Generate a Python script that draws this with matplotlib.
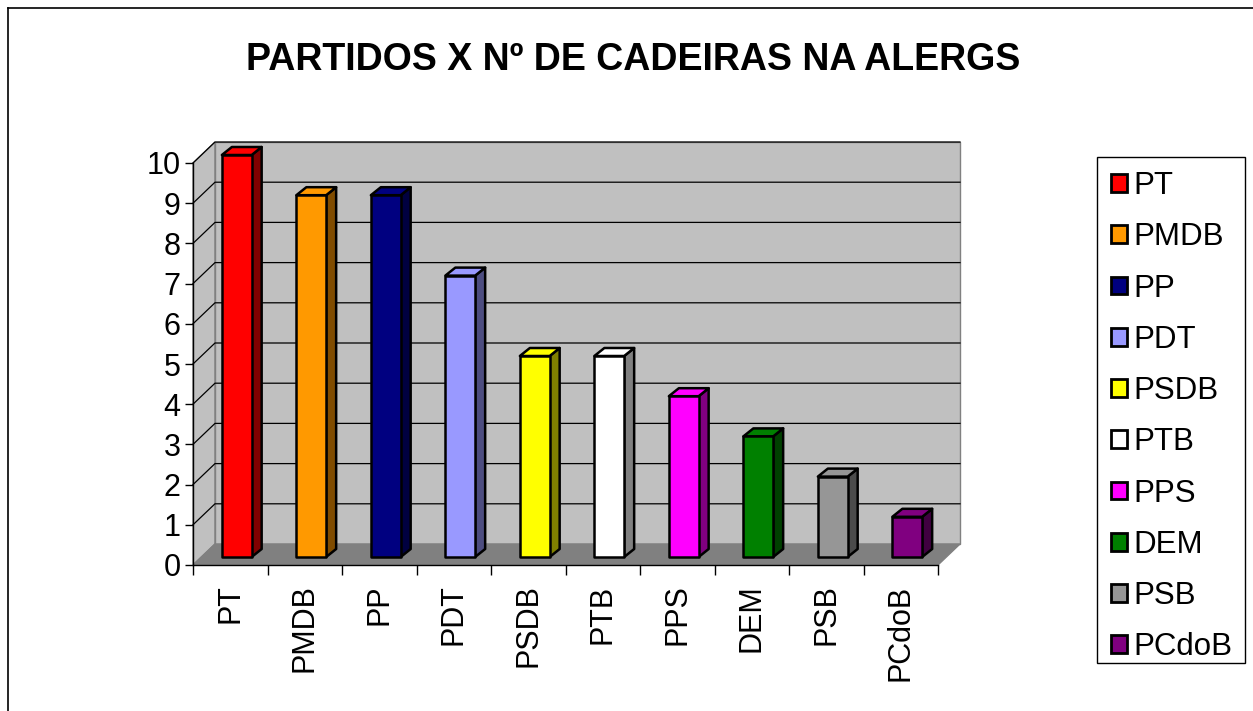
import matplotlib
matplotlib.use("Agg")
import matplotlib.pyplot as plt
from matplotlib.patches import Polygon, Patch, Rectangle
from matplotlib.lines import Line2D

plt.rcParams['font.family'] = ['Liberation Sans', 'DejaVu Sans']

parties = ["PT", "PMDB", "PP", "PDT", "PSDB", "PTB", "PPS", "DEM", "PSB", "PCdoB"]
seats = [10, 9, 9, 7, 5, 5, 4, 3, 2, 1]
colors = ["#FF0000", "#FF9900", "#000080", "#9999FF", "#FFFF00",
          "#FFFFFF", "#FF00FF", "#008000", "#969696", "#800080"]
side_colors = ["#800000", "#804C00", "#000040", "#4D4D80", "#808000",
               "#808080", "#800080", "#004000", "#4B4B4B", "#400040"]
yticks = [0, 1, 2, 3, 4, 5, 6, 7, 8, 9, 10]

W, H = 1253, 711
fig = plt.figure(figsize=(W / 100, H / 100), dpi=100)

# front plane of the plot in pixels
x0p, x1p, y0p, y1p = 193, 938, 565, 163
ax = fig.add_axes([x0p / W, 1 - y0p / H, (x1p - x0p) / W, (y0p - y1p) / H])
n = len(parties)
ax.set_xlim(0, n)
ax.set_ylim(0, 10)
ax.patch.set_visible(False)

# depth offset of the back wall (in data units)
pxu = (x1p - x0p) / n
pyu = (y0p - y1p) / 10
dx, dy = 22 / pxu, 21 / pyu

wall = "#C0C0C0"
ax.add_patch(Polygon([(0, 0), (0, 10), (dx, 10 + dy), (dx, dy)], closed=True,
                     facecolor=wall, edgecolor="#808080", lw=1, clip_on=False, zorder=0))
ax.add_patch(Polygon([(dx, dy), (dx, 10 + dy), (n + dx, 10 + dy), (n + dx, dy)], closed=True,
                     facecolor=wall, edgecolor="#808080", lw=1, clip_on=False, zorder=0))
for y in yticks[1:]:
    ax.plot([0, dx, n + dx], [y, y + dy, y + dy], color="black", lw=0.9,
            clip_on=False, zorder=1)
ax.add_patch(Polygon([(0, 0), (n, 0), (n + dx, dy), (dx, dy)], closed=True,
                     facecolor="#808080", edgecolor="#808080", lw=1, clip_on=False, zorder=2))

# 3D-looking bars
bw = 0.4
fx, fy = 8 / pxu, 8 / pyu
bx, by = 18 / pxu, 16 / pyu
for i, v in enumerate(seats):
    l = i + 0.5 - bw / 2 - 0.02
    r = l + bw
    front = [(l + fx, fy), (r + fx, fy), (r + fx, v + fy), (l + fx, v + fy)]
    side = [(r + fx, fy), (r + bx, by), (r + bx, v + by), (r + fx, v + fy)]
    top = [(l + fx, v + fy), (r + fx, v + fy), (r + bx, v + by), (l + bx, v + by)]
    for pts, c in [(side, side_colors[i]), (top, colors[i]), (front, colors[i])]:
        ax.add_patch(Polygon(pts, closed=True, facecolor=c, edgecolor="black",
                             lw=1.8, joinstyle="round", clip_on=False, zorder=3))

for s in ["top", "right"]:
    ax.spines[s].set_visible(False)
for s in ["left", "bottom"]:
    ax.spines[s].set_color("black")
    ax.spines[s].set_linewidth(1)
    ax.spines[s].set_zorder(4)

ax.set_yticks(yticks)
ax.set_yticklabels([str(t) for t in yticks], fontsize=22)
ax.tick_params(axis="y", direction="out", length=6, width=1, pad=3)
ax.set_xticks([i + 0.5 for i in range(n)])
ax.set_xticklabels(parties, rotation=90, fontsize=22)
ax.set_xticks(range(n + 1), minor=True)
ax.tick_params(axis="x", which="major", length=0, pad=14)
ax.tick_params(axis="x", which="minor", direction="out", length=7, width=1)

fig.text(0.505, 0.915, "PARTIDOS X Nº DE CADEIRAS NA ALERGS", ha="center", va="center",
         fontsize=27, fontweight="bold")

# legend entries without frame, box drawn separately
handles = [Patch(facecolor=c, edgecolor="black", lw=2) for c in colors]
fig.legend(handles, parties, loc="upper left", bbox_to_anchor=(1097 / W, 1 - 157 / H),
           fontsize=22.5, frameon=False,
           handlelength=0.5, handleheight=0.5, handletextpad=0.22,
           labelspacing=0.68, borderpad=0.45, borderaxespad=0)
fig.add_artist(Rectangle((1097 / W, 1 - 663 / H), (1245 - 1097) / W, (663 - 157) / H,
                         transform=fig.transFigure, facecolor="none",
                         edgecolor="black", lw=1))

# chart area border
fig.add_artist(Line2D([8 / W, 8 / W], [0, 1 - 8 / H], color="black", lw=1.2))
fig.add_artist(Line2D([8 / W, 1], [1 - 8 / H, 1 - 8 / H], color="black", lw=1.2))

fig.savefig("out.png", dpi=100)
